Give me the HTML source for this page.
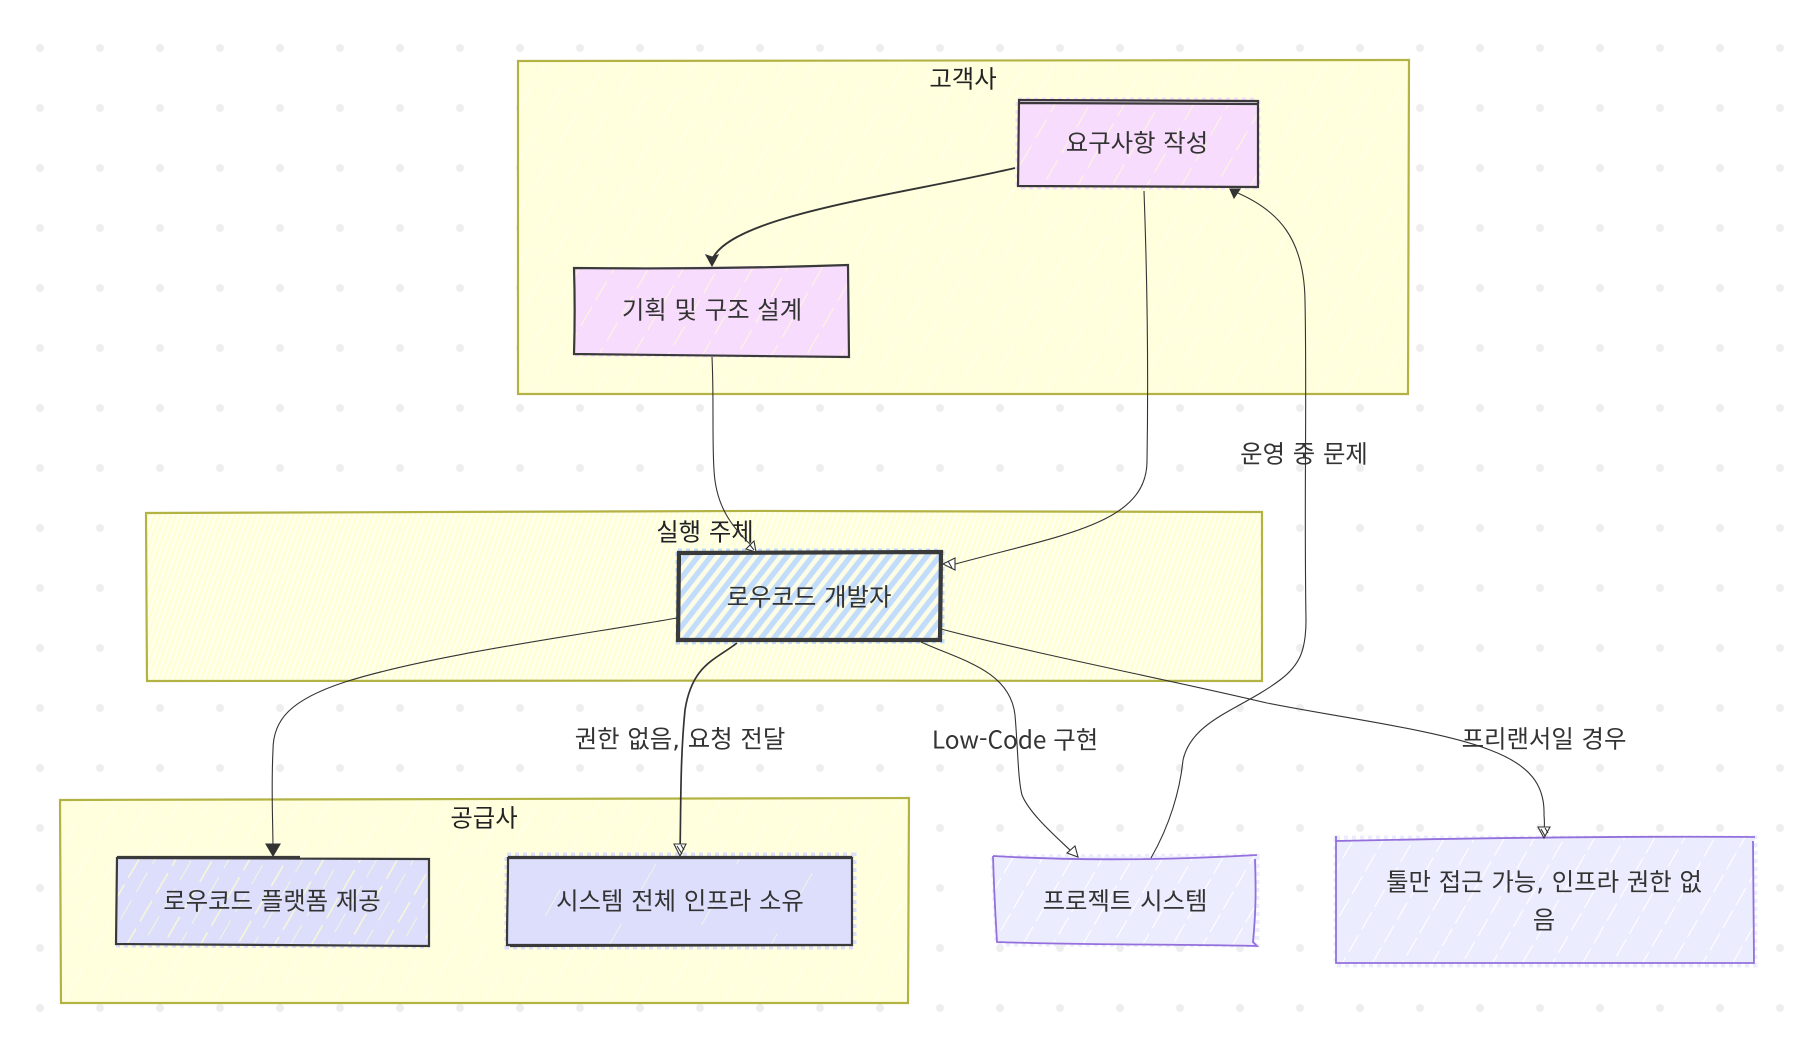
<!DOCTYPE html>
<html lang="ko"><head><meta charset="utf-8"><style>
html,body{margin:0;padding:0;background:#fff}
svg{display:block}
text{font-family:"DejaVu Sans","Noto Sans CJK KR",sans-serif;font-size:24.4px;fill:#333;text-anchor:middle;dominant-baseline:central}
.t{fill:#222}
.g{stroke:#b3b345;stroke-width:2.2;fill:none}
.n{stroke:#3a3a3a;stroke-width:2.2;fill:none}
.p{stroke:#9370db;stroke-width:1.8;fill:none}
.e{stroke:#333;stroke-width:1.1;fill:none}
.a{stroke:#333;stroke-width:1.1;fill:#fff}
.b{stroke:#333;stroke-width:1.1;fill:#333}
.f{fill:none;stroke-width:5;stroke-dasharray:4 4}
</style></head><body>
<svg width="1806" height="1046" viewBox="0 0 1806 1046" xmlns="http://www.w3.org/2000/svg">
<defs>
<pattern id="dots" width="60" height="60" patternUnits="userSpaceOnUse" x="10" y="18"><circle cx="30" cy="30" r="4" fill="#eeeeee"/></pattern>
<pattern id="gy" width="52" height="52" patternUnits="userSpaceOnUse" patternTransform="rotate(30)"><rect width="52" height="52" fill="#ffffde"/><line x1="10" y1="0" x2="10" y2="34" stroke="#fffff2" stroke-width="1"/><line x1="36" y1="16" x2="36" y2="52" stroke="#fffff2" stroke-width="1"/></pattern>
<pattern id="gd" width="5" height="5" patternUnits="userSpaceOnUse" patternTransform="rotate(20)"><rect width="5" height="5" fill="#ffffea" fill-opacity=".88"/><line x1="1.5" y1="0" x2="1.5" y2="5" stroke="#ffffd0" stroke-width="2"/></pattern>
<pattern id="pk" width="30" height="30" patternUnits="userSpaceOnUse" patternTransform="rotate(30)"><rect width="30" height="30" fill="#f8dcfd"/><line x1="6" y1="0" x2="6" y2="22" stroke="#fbf6dc" stroke-width="1.1"/></pattern>
<pattern id="bl" width="32" height="32" patternUnits="userSpaceOnUse" patternTransform="rotate(30)"><rect width="32" height="32" fill="#dcdefb"/><line x1="6" y1="0" x2="6" y2="24" stroke="#f8f8d8" stroke-width="1.5"/><line x1="20" y1="10" x2="20" y2="32" stroke="#f3f3e0" stroke-width="1.1"/></pattern>
<pattern id="bl2" width="70" height="70" patternUnits="userSpaceOnUse" patternTransform="rotate(30)"><rect width="70" height="70" fill="#dcdefb"/><line x1="20" y1="0" x2="20" y2="30" stroke="#f3f3e8" stroke-width="1"/></pattern>
<pattern id="pu" width="26" height="26" patternUnits="userSpaceOnUse" patternTransform="rotate(30)"><rect width="26" height="26" fill="#ececff"/><line x1="6" y1="0" x2="6" y2="20" stroke="#fff" stroke-width="1.1"/></pattern>
<pattern id="dv" width="10" height="10" patternUnits="userSpaceOnUse" patternTransform="rotate(38)"><rect width="10" height="10" fill="#fdfde6"/><rect x="0" width="5.4" height="10" fill="#c2dcfb"/></pattern>
</defs>
<rect width="1806" height="1046" fill="#fff"/>
<rect width="1806" height="1046" fill="url(#dots)"/>

<!-- groups -->
<path d="M518 60L1409 60L1408 394L518 394Z" fill="url(#gy)"/>
<path class="g" d="M518 61C800 60 1100 60 1409 60L1408 394C1100 393 800 395 518 394C519 280 517 170 518 61Z"/>
<path d="M146 512L1262 512L1262 681L147 681Z" fill="url(#gd)"/>
<path class="g" d="M146 513C500 511 900 510 1262 512L1262 681C900 680 500 681 147 681C147 620 146 570 146 513Z"/>
<path d="M60 800L909 798L908 1003L61 1003Z" fill="url(#gy)"/>
<path class="g" d="M60 800C340 798 620 799 909 798L908 1003C620 1002 340 1003 61 1003C61 930 60 870 60 800Z"/>
<text class="t" x="963" y="79">고객사</text>
<text class="t" x="705" y="532">실행 주체</text>
<text class="t" x="484" y="818">공급사</text>

<!-- nodes -->
<path class="f" stroke="#f8dcfd" d="M1018 100L1258 100L1258 187L1018 187Z"/>
<path d="M1018 100L1258 100L1258 187L1018 187Z" fill="url(#pk)"/>
<path class="n" d="M1019 100L1258 101L1258 187L1018 186ZM1019 103L1258 104"/>
<path class="f" stroke="#f8dcfd" d="M575 354L849 356"/>
<path d="M574 268L848 265L849 356L575 354Z" fill="url(#pk)"/>
<path class="n" d="M574 268C660 269 760 268 848 265L849 357L574 354C575 320 575 300 574 268Z"/>
<path class="f" stroke="#c2dcfb" d="M678 551L942 551L942 641L678 642Z"/>
<path d="M678 553L940 552L940 640L678 641Z" fill="url(#dv)"/>
<path class="n" style="stroke-width:4.2" d="M679 553L941 552L940 640L678 640Z"/>
<path class="f" stroke="#dcdefb" d="M116 945L429 946"/>
<path d="M116 857L429 858L429 945L116 944Z" fill="url(#bl)"/>
<path class="n" d="M117 858L429 859L429 946L116 944ZM117 857L300 857"/>
<path class="f" stroke="#dcdefb" d="M507 855L854 855L854 947L507 947Z"/>
<path d="M507 858L852 858L852 945L508 945Z" fill="url(#bl2)"/>
<path class="n" d="M508 858L852 858L852 945L507 945C507 910 508 890 508 858ZM510 946L852 945M508 857L852 857"/>
<path class="f" stroke="#ececff" d="M993 857L1257 856L1257 945L997 944Z"/>
<path d="M993 857L1257 856L1255 945L997 942Z" fill="url(#pu)"/>
<path class="p" d="M993 856C1080 861 1170 860 1257 855M1255 859C1256 890 1256 910 1253 942L1257 946C1170 944 1080 945 997 942C995 910 994 890 993 856"/>
<path class="f" stroke="#ececff" d="M1336 838L1755 838L1755 965L1336 965Z"/>
<path d="M1336 840L1753 837L1754 963L1336 963Z" fill="url(#pu)"/>
<path class="p" d="M1336 841C1480 838 1620 836 1755 837M1753 841L1754 963L1336 963L1336 836"/>

<text x="1137" y="143">요구사항 작성</text>
<text x="712" y="310">기획 및 구조 설계</text>
<text x="809" y="597">로우코드 개발자</text>
<text x="272" y="901">로우코드 플랫폼 제공</text>
<text x="680" y="901">시스템 전체 인프라 소유</text>
<text x="1125" y="901">프로젝트 시스템</text>
<text x="1544" y="882">툴만 접근 가능, 인프라 권한 없</text>
<text x="1544" y="920">음</text>

<!-- edges -->
<path class="e" style="stroke-width:1.9" d="M1015 168C900 195 730 215 712 260"/>
<path class="e" d="M1144 191C1148 300 1148 400 1147 462C1146 525 1060 535 948 566"/>
<path class="e" d="M712 357C714 400 712 440 714 470C716 510 735 530 756 550"/>
<path class="e" d="M1151 858C1170 825 1180 790 1183 760C1192 720 1240 710 1280 680C1300 665 1306 650 1306 620C1304 500 1307 400 1305 300C1304 240 1280 210 1233 191"/>
<path class="e" d="M677 618C580 635 430 655 345 682C290 700 273 720 273 750C271 790 273 820 273 852"/>
<path class="e" style="stroke-width:1.7" d="M737 643C715 660 692 665 685 710C680 760 681 810 680 852"/>
<path class="e" d="M921 642C960 660 1010 670 1015 715C1018 750 1018 780 1022 795C1030 815 1060 840 1073 853"/>
<path class="e" d="M941 629C1040 655 1170 680 1267 703C1330 716 1440 730 1490 750C1530 765 1545 785 1544 815C1545 825 1544 830 1544 832"/>

<!-- arrowheads -->
<polygon class="b" points="712,266 706,255 712,257 718,255"/>
<polygon class="a" points="756,552 746,549 754,541"/>
<path class="e" d="M750 545L754 550"/>
<polygon class="a" points="943,564 955,558 955,570"/>
<path class="e" d="M948 561L952 568"/>
<polygon class="b" points="1230,189 1240,189 1234,198"/>
<polygon class="b" points="273,856 266,844 280,844"/>
<polygon class="a" points="680,856 674,844 686,844"/>
<path class="e" d="M677 846L682 854M681 845L684 850"/>
<polygon class="a" points="1078,857 1067,853 1075,846"/>
<polygon class="a" points="1544,838 1538,827 1550,827"/>
<path class="e" d="M1541 829L1545 836M1545 828L1548 833"/>

<!-- edge labels -->
<text x="1304" y="454">운영 중 문제</text>
<text x="680" y="739">권한 없음, 요청 전달</text>
<text x="1015" y="739" style="font-family:'Noto Sans CJK KR',sans-serif">Low-Code 구현</text>
<text x="1544" y="739">프리랜서일 경우</text>
</svg>
</body></html>
